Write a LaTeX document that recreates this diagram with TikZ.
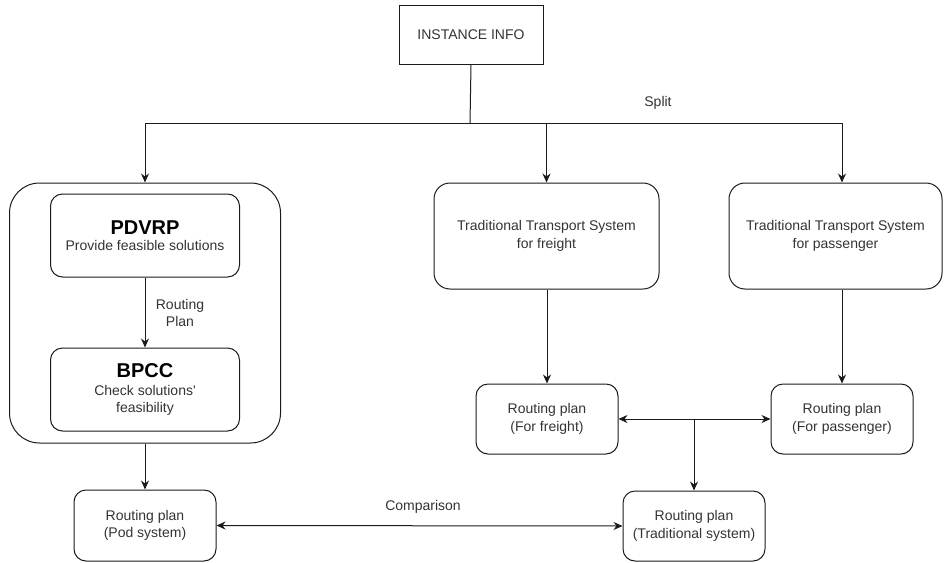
\documentclass[tikz,border=0pt]{standalone}
\usepackage{fontspec}
\setmainfont{Liberation Sans}
\usetikzlibrary{arrows.meta,calc}
\definecolor{txt}{HTML}{333333}
\definecolor{ln}{HTML}{1A1A1A}
\begin{document}
\begin{tikzpicture}[x=1pt,y=-1pt,
  every node/.style={font=\fontsize{14}{17.5}\selectfont, text=txt, align=center},
  box/.style={draw=ln, line width=1pt, rounded corners=#1, inner sep=0pt},
  box/.default=10pt,
  arr/.style={draw=ln, line width=1pt, -{Stealth[length=9pt,width=8pt]}},
  darr/.style={draw=ln, line width=1pt, {Stealth[length=9pt,width=8pt]}-{Stealth[length=9pt,width=8pt]}},
  lbl/.style={inner sep=1pt}
]
\useasboundingbox (0,0) rectangle (944,562);
% nodes
\node[draw=ln, line width=1pt, minimum width=144pt, minimum height=59pt, inner sep=0pt] (info) at (471,34.5) {INSTANCE INFO};
\node[box=30pt, minimum width=271pt, minimum height=260pt] (bigbox) at (145,313) {};
\node[box=12pt, minimum width=189pt, minimum height=83pt] (pdvrp) at (145,235.5) {{\fontsize{20}{22}\selectfont\bfseries\color{black}PDVRP}\\[-1pt]Provide feasible solutions};
\node[box=12pt, minimum width=189pt, minimum height=83pt] (bpcc) at (145,389.5) {{\fontsize{20}{22}\selectfont\bfseries\color{black}BPCC}\\[0pt]Check solutions\textquotesingle\\feasibility};
\node[box=16pt, minimum width=225pt, minimum height=106pt] (freight) at (546.5,236) {Traditional Transport System\\for freight};
\node[box=16pt, minimum width=213pt, minimum height=106pt] (pass) at (835.5,236) {Traditional Transport System\\for passenger};
\node[box=12pt, minimum width=142pt, minimum height=70pt] (prfreight) at (547,419) {Routing plan\\(For freight)};
\node[box=12pt, minimum width=142pt, minimum height=70pt] (prpass) at (842,419) {Routing plan\\(For passenger)};
\node[box=12pt, minimum width=142pt, minimum height=70pt] (prtrad) at (694,526) {Routing plan\\(Traditional system)};
\node[box=12pt, minimum width=142pt, minimum height=71pt] (prpod) at (145,525.5) {Routing plan\\(Pod system)};
\coordinate (split) at (470,123);
% labels
\node[lbl] (splitlbl) at (658,103) {Split};
\node[lbl] (routlbl) at (180,313) {Routing\\Plan};
\node[lbl] (complbl) at (423,507) {Comparison};
% connectors
\draw[draw=ln, line width=1pt] (info.south) -- (split);
\draw[arr] (split) -| (bigbox.north);
\draw[arr] (split) -| (freight.north);
\draw[arr] (split) -| (pass.north -| prpass.north);
\draw[arr] (pdvrp.south) -- (bpcc.north);
\draw[arr] (bigbox.south) -- (prpod.north);
\draw[arr] (freight.south -| prfreight.north) -- (prfreight.north);
\draw[arr] (pass.south -| prpass.north) -- (prpass.north);
\draw[darr] (prfreight.east) -- (prpass.west);
\draw[arr] (prfreight.east -| prtrad.north) -- (prtrad.north);
\draw[darr] (prpod.east) -- (prtrad.west);
\end{tikzpicture}
\end{document}
